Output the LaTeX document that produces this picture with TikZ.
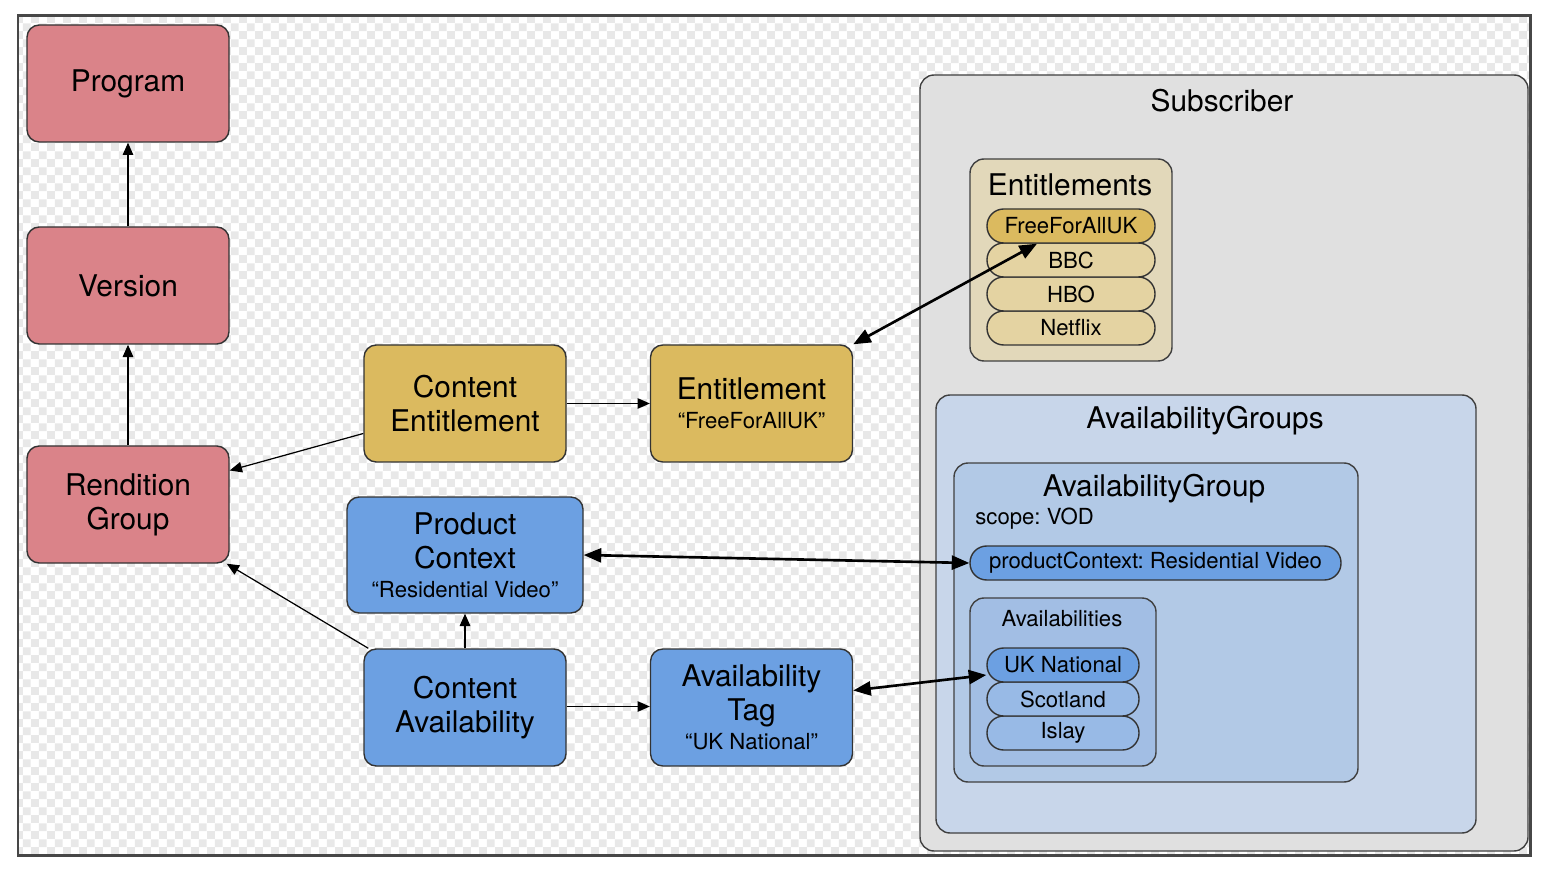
\documentclass[tikz,border=0pt]{standalone}
\usepackage{fontspec}
\setmainfont{TeX Gyre Heros}
\usepackage{tikz}
\usetikzlibrary{arrows.meta,patterns.meta}
\frenchspacing
\definecolor{progred}{RGB}{218,131,137}
\definecolor{entgold}{RGB}{219,186,95}
\definecolor{availblue}{RGB}{108,160,226}
\definecolor{subgray}{RGB}{224,224,224}
\definecolor{enttan}{RGB}{226,216,186}
\definecolor{pilltan}{RGB}{228,211,162}
\definecolor{agsblue}{RGB}{200,214,234}
\definecolor{agblue}{RGB}{178,201,230}
\definecolor{avsblue}{RGB}{162,190,228}
\definecolor{pillblue}{RGB}{152,186,230}
\newcommand\boxfont{\fontsize{17}{19.5}\selectfont}
\newcommand\tagfont{\fontsize{12.6}{14.5}\selectfont}
\tikzdeclarepattern{
	name=checks,
	type=uncolored,
	bottom left={(0pt,0pt)},
	top right={(9pt,9pt)},
	tile size={(9pt,9pt)},
	code={
		\fill (0pt,0pt) rectangle (4.5pt,4.5pt);
		\fill (4.5pt,4.5pt) rectangle (9pt,9pt);
	}
}
\tikzset{
	basebox/.style={rectangle, rounded corners=7pt, draw=black!80, line width=0.8pt, minimum width=4.04cm, minimum height=2.34cm, align=center, font=\boxfont, inner sep=2pt},
	redbox/.style={basebox, fill=progred},
	goldbox/.style={basebox, fill=entgold},
	bluebox/.style={basebox, fill=availblue},
	pill/.style={rectangle, rounded corners=9.5pt, draw=black!80, line width=0.8pt, minimum height=0.68cm, inner sep=0pt, font=\tagfont},
	panel/.style={rounded corners=8pt, draw=black!75, line width=0.8pt},
	link/.style={-{Triangle[length=7pt,width=6pt]}, line width=0.7pt},
	duallink/.style={{Triangle[length=10pt,width=8pt]}-{Triangle[length=10pt,width=8pt]}, line width=1.5pt}
}
\begin{document}
\begin{tikzpicture}
	\useasboundingbox (0,0) rectangle (31.04,17.4);
	% background and frame
	\fill[pattern=checks, pattern color=black!9] (0.38,0.32) rectangle (30.58,17.06);
	\draw[black!72, line width=1.7pt] (0.36,0.3) rectangle (30.6,17.08);
	
	% content side
	\node[redbox] (prog) at (2.56,15.73) {Program};
	\node[redbox] (vers) at (2.56,11.69) {Version};
	\node[redbox] (rgroup) at (2.56,7.31) {Rendition\\Group};
	\node[goldbox] (cent) at (9.3,9.33) {Content\\Entitlement};
	\node[goldbox] (ent) at (15.03,9.33) {Entitlement\\[-3pt]{\tagfont “FreeForAllUK”}};
	\node[bluebox, minimum width=4.72cm, minimum height=2.32cm] (pctx) at (9.3,6.3) {Product\\Context\\[-3pt]{\tagfont “Residential Video”}};
	\node[bluebox] (cavail) at (9.3,3.25) {Content\\Availability};
	\node[bluebox] (atag) at (15.03,3.25) {Availability\\Tag\\[-3pt]{\tagfont “UK National”}};
	
	% subscriber side
	\draw[panel, fill=subgray] (18.4,0.38) rectangle (30.56,15.9);
	\node[font=\boxfont] (subtitle) at (24.44,15.38) {Subscriber};
	
	\draw[panel, fill=enttan] (19.4,10.18) rectangle (23.44,14.22);
	\node[font=\boxfont] (enttitle) at (21.4,13.7) {Entitlements};
	\node[pill, fill=pilltan, minimum width=3.36cm] (netflix) at (21.42,10.84) {Netflix};
	\node[pill, fill=pilltan, minimum width=3.36cm] (hbo) at (21.42,11.52) {HBO};
	\node[pill, fill=pilltan, minimum width=3.36cm] (bbc) at (21.42,12.2) {BBC};
	\node[pill, fill=entgold, minimum width=3.36cm] (free) at (21.42,12.88) {FreeForAllUK};
	
	\draw[panel, fill=agsblue] (18.72,0.74) rectangle (29.52,9.5);
	\node[font=\boxfont] (agstitle) at (24.1,8.98) {AvailabilityGroups};
	\draw[panel, fill=agblue] (19.08,1.76) rectangle (27.16,8.14);
	\node[font=\boxfont] (agtitle) at (23.08,7.62) {AvailabilityGroup};
	\node[font=\tagfont, anchor=west, inner sep=0pt] (scope) at (19.5,7.02) {scope: VOD};
	\node[pill, fill=availblue, minimum width=7.42cm] (pcpill) at (23.11,6.14) {productContext: Residential Video};
	
	\draw[panel, fill=avsblue] (19.4,2.08) rectangle (23.12,5.44);
	\node[font=\tagfont] (avstitle) at (21.24,5.02) {Availabilities};
	\node[pill, fill=pillblue, minimum width=3.04cm] (islay) at (21.26,2.74) {Islay};
	\node[pill, fill=pillblue, minimum width=3.04cm] (scot) at (21.26,3.42) {Scotland};
	\node[pill, fill=availblue, minimum width=3.04cm] (uknat) at (21.26,4.1) {UK National};
	
	% connectors
	\draw[link] (vers) -- (prog);
	\draw[link] (rgroup) -- (vers);
	\draw[link] ([yshift=-0.6cm]cent.west) -- ([yshift=0.68cm]rgroup.east);
	\draw[link] ([xshift=0.1cm]cavail.north west) -- ([xshift=-0.06cm]rgroup.south east);
	\draw[link] (cent) -- (ent);
	\draw[link] ([yshift=0.02cm]cavail.east) -- ([yshift=0.02cm]atag.west);
	\draw[link] (cavail) -- (pctx);
	\draw[duallink] (ent.north east) -- ([xshift=-0.68cm]free.south);
	\draw[duallink] (pctx.east) -- (pcpill.west);
	\draw[duallink] ([yshift=0.34cm]atag.east) -- ([yshift=-0.2cm]uknat.west);
\end{tikzpicture}
\end{document}
